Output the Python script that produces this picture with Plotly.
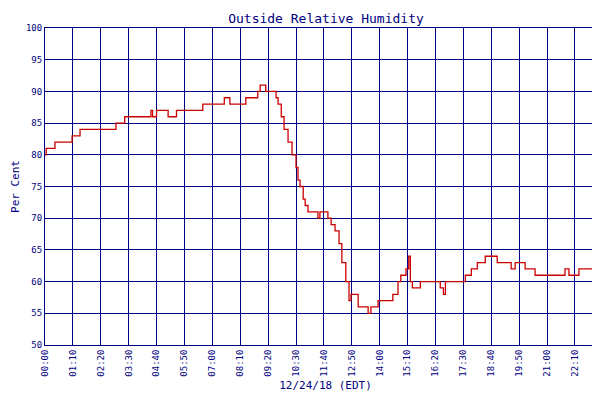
import plotly.graph_objects as go

# minutes since midnight / relative humidity (%)
minutes = [0, 3, 25, 68, 88, 178, 200, 266, 270, 280, 309, 330, 396, 450, 464, 504, 534, 540,
           554, 580, 585, 593, 600, 610, 620, 630, 635, 640, 648, 653, 660, 675, 685, 690,
           710, 718, 728, 738, 745, 755, 763, 768, 776, 786, 811, 818, 836, 848, 873, 886,
           893, 906, 913, 917, 922, 942, 992, 1000, 1005, 1030, 1055, 1070, 1085, 1105, 1118,
           1135, 1155, 1170, 1180, 1205, 1230, 1265, 1280, 1305, 1315, 1340, 1365, 1393, 1410]
humidity = [80, 81, 82, 83, 84, 85, 86, 87, 86, 87, 86, 87, 88, 89, 88, 89, 90, 91,
            90, 89, 88, 86, 84, 82, 80, 78, 76, 75, 73, 72, 71, 71, 70, 71,
            70, 69, 68, 66, 63, 60, 57, 58, 58, 56, 55, 56, 57, 57, 58, 60,
            61, 62, 64, 60, 59, 60, 59, 58, 60, 60, 61, 62, 63, 64, 64,
            63, 63, 62, 63, 62, 61, 61, 61, 62, 61, 62, 62, 63, 63]

tick_vals = [i * 70 for i in range(21)]
tick_text = ["%02d:%02d" % (v // 60, v % 60) for v in tick_vals[:-1]] + [""]
edge_labels = ["23:20", "23:59"]
edge_pos = [1400, 1405]

navy = "#000080"
fig = go.Figure(go.Scatter(x=minutes, y=humidity, mode="lines", line_shape="hv",
                           line=dict(color="#cc0000", width=1.3), name="Relative Humidity"))
for lab, pos in zip(edge_labels, edge_pos):
    fig.add_annotation(x=pos, y=0, xref="x", yref="paper", yanchor="top", yshift=-3,
                       text=lab, textangle=-90, showarrow=False, font=dict(size=9))
fig.update_layout(
    width=600, height=400, plot_bgcolor="white", paper_bgcolor="white",
    font=dict(family="DejaVu Sans Mono", color=navy, size=9),
    title=dict(text="Outside Relative Humidity", x=0.53, y=0.985, font=dict(size=13)),
    margin=dict(l=37, r=2, t=20, b=63, autoexpand=False),
    showlegend=True,
    legend=dict(orientation="h", x=0.5, xanchor="center", y=-0.165, yanchor="top", font=dict(size=8)),
)
fig.update_xaxes(range=[0, 1408], tickvals=tick_vals, ticktext=tick_text, tickangle=-90,
                 showgrid=True, gridcolor=navy, gridwidth=1, showline=True, linecolor=navy,
                 mirror=True, title=dict(text="12/24/18 (EDT)", font=dict(size=11), standoff=5),
                 ticks="", zeroline=False, automargin=False)
fig.update_yaxes(range=[50, 100], dtick=5, showgrid=True, gridcolor=navy, gridwidth=1,
                 showline=True, linecolor=navy, mirror=True, zeroline=False, automargin=False,
                 title=dict(text="Per Cent", font=dict(size=11), standoff=4))
fig.write_html("out.html")
